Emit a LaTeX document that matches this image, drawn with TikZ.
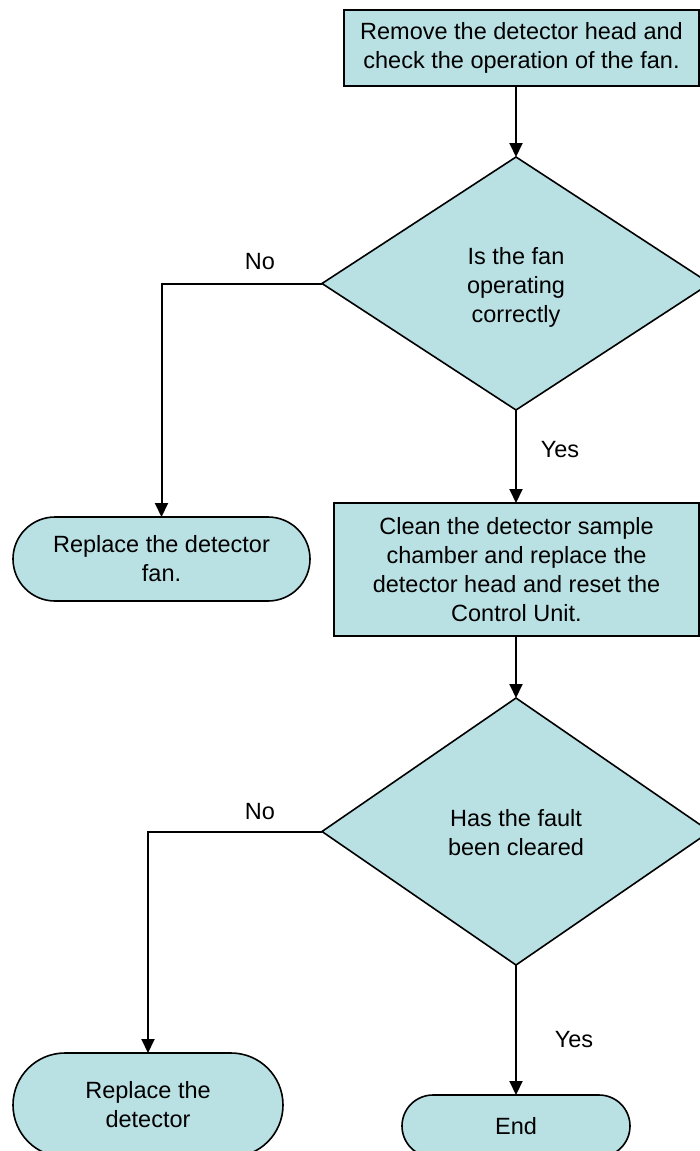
\documentclass[tikz,border=0pt]{standalone}
\usepackage{fontspec}
\setmainfont{Liberation Sans}
\usetikzlibrary{shapes.geometric,arrows.meta}
\definecolor{boxfill}{RGB}{185,224,227}
\tikzset{
  base/.style={draw=black, line width=1.6pt, fill=boxfill, outer sep=0pt, inner sep=0pt, align=center,
    font=\fontsize{23.5}{29}\selectfont},
  procbox/.style={base, rectangle},
  decbox/.style={base, diamond},
  termbox/.style={base, rectangle},
  conn/.style={line width=2pt, -{Triangle[length=14pt,width=13pt]}},
  lbl/.style={font=\fontsize{23.5}{29}\selectfont, inner sep=0pt}
}
\begin{document}
\begin{tikzpicture}[x=1pt,y=-1pt]
\useasboundingbox (0,0) rectangle (700,1151);
\node[procbox, minimum width=355, minimum height=76] (b1) at (521.5,48) {Remove the detector head and\\check the operation of the fan.};
\node[decbox, minimum width=388, minimum height=253] (d1) at (516,283.5) {};
\node[lbl, align=center] (t1) at (516,287) {Is the fan\\operating\\correctly};
\node[termbox, minimum width=297, minimum height=84, rounded corners=42] (r1) at (161.5,559) {Replace the detector\\fan.};
\node[procbox, minimum width=365, minimum height=133] (b2) at (516.5,569.5) {Clean the detector sample\\chamber and replace the\\detector head and reset the\\Control Unit.};
\node[decbox, minimum width=388, minimum height=267] (d2) at (516,831.5) {};
\node[lbl, align=center] (t2) at (516,833) {Has the fault\\been cleared};
\node[termbox, minimum width=270, minimum height=104, rounded corners=52] (r2) at (148,1105) {Replace the\\detector};
\node[termbox, minimum width=228, minimum height=62, rounded corners=31] (e) at (516,1126) {End};
\draw[conn] (b1.south -| d1.north) -- (d1.north);
\draw[conn] (d1.west) -| (r1.north);
\draw[conn] (d1.south) -- (b2.north -| d1.south);
\draw[conn] (b2.south -| d2.north) -- (d2.north);
\draw[conn] (d2.west) -| (r2.north);
\draw[conn] (d2.south) -- (e.north);
\node[lbl] (n1) at (260,262) {No};
\node[lbl] (y1) at (560,450) {Yes};
\node[lbl] (n2) at (260,812) {No};
\node[lbl] (y2) at (574,1040) {Yes};
\end{tikzpicture}
\end{document}
